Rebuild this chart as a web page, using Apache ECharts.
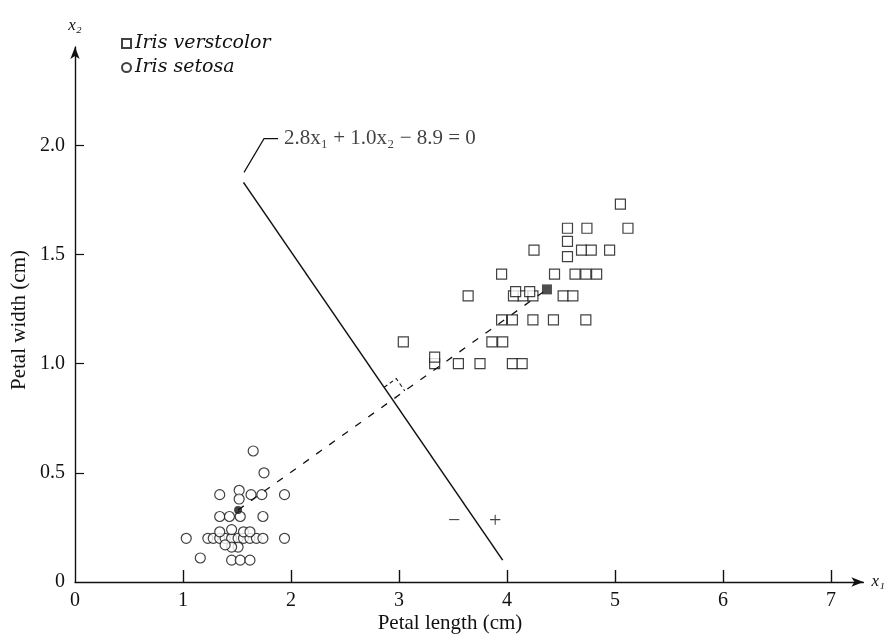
<!DOCTYPE html>
<html>
<head>
<meta charset="utf-8">
<script src="https://cdn.jsdelivr.net/npm/echarts@6/dist/echarts.min.js"></script>
<style>html,body{margin:0;padding:0;background:#fff}#c{width:889px;height:643px}</style>
</head>
<body>
<div id="c"></div>
<script>
// ---- data ----
const xTicks = [0, 1, 2, 3, 4, 5, 6, 7];
const yTicks = [0, 0.5, 1.0, 1.5, 2.0];
const yTickLabels = ['0', '0.5', '1.0', '1.5', '2.0'];

const versicolor = [
  [5.05,1.73],
  [4.56,1.62],[4.74,1.62],[5.12,1.62],
  [4.56,1.56],[4.56,1.49],
  [4.25,1.52],[4.69,1.52],[4.78,1.52],[4.95,1.52],
  [3.95,1.41],[4.44,1.41],[4.63,1.41],[4.73,1.41],[4.83,1.41],
  [3.64,1.31],[4.06,1.31],[4.15,1.31],[4.24,1.31],[4.52,1.31],[4.61,1.31],
  [4.08,1.33],[4.21,1.33],
  [3.95,1.20],[4.05,1.20],[4.24,1.20],[4.43,1.20],[4.73,1.20],
  [3.04,1.10],[3.86,1.10],[3.96,1.10],
  [3.33,1.00],[3.33,1.03],[3.55,1.00],[3.75,1.00],[4.05,1.00],[4.14,1.00]
];

const setosa = [
  [1.65,0.60],[1.75,0.50],
  [1.34,0.40],[1.52,0.42],[1.52,0.38],[1.63,0.40],[1.73,0.40],[1.94,0.40],
  [1.34,0.30],[1.43,0.30],[1.53,0.30],[1.74,0.30],
  [1.03,0.20],[1.23,0.20],[1.28,0.20],[1.34,0.20],[1.39,0.20],[1.45,0.20],[1.51,0.20],
  [1.56,0.20],[1.62,0.20],[1.68,0.20],[1.74,0.20],[1.94,0.20],
  [1.34,0.23],[1.45,0.24],[1.51,0.16],[1.56,0.23],[1.45,0.16],[1.62,0.23],[1.39,0.17],
  [1.16,0.11],[1.45,0.10],[1.53,0.10],[1.62,0.10]
];

const meanSetosa = [1.51, 0.33];
const meanVersicolor = [4.37, 1.34];
const boundary = [[1.56, 1.83], [3.96, 0.10]];
const signs = [[3.51, 0.28, '−'], [3.89, 0.28, '+']];
const equationAnchor = [1.93, 2.03];
const equationArrow = [[1.88, 2.03], [1.75, 2.03], [1.565, 1.876]];
const equationText = '2.8x₁ + 1.0x₂ − 8.9 = 0';
const xTitle = 'Petal length (cm)';
const yTitle = 'Petal width (cm)';

// ---- chart ----
const FONT = '"Liberation Serif", "DejaVu Serif", serif';
const chart = echarts.init(document.getElementById('c'), null, {renderer: 'canvas'});

const hollow = {color: '#fff', borderColor: '#111', borderWidth: 1.2};

chart.setOption({
  animation: false,
  backgroundColor: '#fff',
  grid: {left: 75, right: 25.6, top: 47, bottom: 61, containLabel: false},
  legend: {
    orient: 'vertical', left: 116, top: 29, itemGap: 5, itemWidth: 9, itemHeight: 9,
    data: ['Iris verstcolor', 'Iris setosa'],
    textStyle: {fontFamily: '"DejaVu Serif", serif', fontStyle: 'italic', fontSize: 19, color: '#111', padding: [0, 0, 0, -1]}
  },
  xAxis: {
    type: 'value', min: 0, max: 7.3,
    name: 'x₁', nameLocation: 'end', nameGap: 8,
    nameTextStyle: {fontFamily: FONT, fontStyle: 'italic', fontSize: 17, color: '#111', verticalAlign: 'middle'},
    axisLine: {show: true, onZero: false, symbol: ['none', 'arrow'], symbolSize: [7, 12], lineStyle: {color: '#111', width: 1.4}},
    axisTick: {show: true, inside: true, length: 12, customValues: xTicks.slice(1), lineStyle: {color: '#111', width: 1.4}},
    axisLabel: {customValues: xTicks, fontFamily: FONT, fontSize: 20, color: '#111', margin: 9},
    splitLine: {show: false}
  },
  yAxis: {
    type: 'value', min: 0, max: 2.45,
    name: 'x₂', nameLocation: 'end', nameGap: 13,
    nameTextStyle: {fontFamily: FONT, fontStyle: 'italic', fontSize: 17, color: '#111', align: 'center'},
    axisLine: {show: true, onZero: false, symbol: ['none', 'arrow'], symbolSize: [7, 12], lineStyle: {color: '#111', width: 1.4}},
    axisTick: {show: true, inside: true, length: 9, customValues: yTicks.slice(1), lineStyle: {color: '#111', width: 1.2}},
    axisLabel: {
      customValues: yTicks, fontFamily: FONT, fontSize: 20, color: '#111', margin: 10,
      formatter: v => yTickLabels[yTicks.findIndex(t => Math.abs(t - v) < 1e-6)] ?? ''
    },
    splitLine: {show: false}
  },
  graphic: [
    {type: 'text', x: 450, y: 623, style: {text: xTitle, font: '21px ' + FONT, fill: '#111', align: 'center', verticalAlign: 'middle'}},
    {type: 'text', x: 19, y: 320, rotation: Math.PI / 2,
      style: {text: yTitle, font: '21px ' + FONT, fill: '#111', align: 'center', verticalAlign: 'middle'}}
  ],
  series: [
    {name: 'Iris verstcolor', type: 'scatter', symbol: 'rect', symbolSize: 10, data: versicolor, itemStyle: hollow, z: 3},
    {name: 'Iris setosa', type: 'scatter', symbol: 'circle', symbolSize: 10, data: setosa, itemStyle: hollow, z: 3},
    {name: 'meanS', type: 'scatter', symbol: 'circle', symbolSize: 8, data: [meanSetosa],
      itemStyle: {color: '#111'}, z: 5},
    {name: 'meanV', type: 'scatter', symbol: 'rect', symbolSize: 10, data: [meanVersicolor],
      itemStyle: {color: '#222'}, z: 5},
    {name: 'boundary', type: 'line', data: boundary, showSymbol: false, symbol: 'none',
      lineStyle: {color: '#111', width: 1.5}, z: 4},
    {name: 'meanLink', type: 'line', data: [meanSetosa, meanVersicolor], showSymbol: false, symbol: 'none',
      lineStyle: {color: '#111', width: 1.3, type: [7, 9]}, z: 4},
    {name: 'rightAngle', type: 'custom', data: [[0, 0]], z: 4, silent: true,
      renderItem: function (params, api) {
        const a = api.coord(boundary[0]), b = api.coord(boundary[1]);
        const s = api.coord(meanSetosa), v = api.coord(meanVersicolor);
        const d1 = [b[0] - a[0], b[1] - a[1]], d2 = [v[0] - s[0], v[1] - s[1]];
        const den = d1[0] * d2[1] - d1[1] * d2[0];
        const t = ((s[0] - a[0]) * d2[1] - (s[1] - a[1]) * d2[0]) / den;
        const I = [a[0] + t * d1[0], a[1] + t * d1[1]];
        const n1 = Math.hypot(d1[0], d1[1]), n2 = Math.hypot(d2[0], d2[1]);
        const u1 = [d1[0] / n1, d1[1] / n1], u2 = [d2[0] / n2, d2[1] / n2];
        const k = 15;
        const A = [I[0] - k * u1[0], I[1] - k * u1[1]];
        const C = [A[0] + k * u2[0], A[1] + k * u2[1]];
        const B = [I[0] + k * u2[0], I[1] + k * u2[1]];
        return {type: 'polyline', shape: {points: [A, C, B]},
          style: {stroke: '#111', lineWidth: 1.1, lineDash: [4, 3], fill: null}};
      }
    },
    {name: 'signs', type: 'scatter', symbolSize: 1, data: signs.map(s => [s[0], s[1], s[2]]),
      itemStyle: {color: 'rgba(0,0,0,0)'},
      label: {show: true, position: 'inside', formatter: p => p.data[2],
        fontFamily: FONT, fontSize: 22, color: '#111'}},
    {name: 'equation', type: 'scatter', symbolSize: 1, data: [equationAnchor],
      itemStyle: {color: 'rgba(0,0,0,0)'},
      label: {show: true, position: 'right', distance: 0, formatter: equationText,
        fontFamily: FONT, fontSize: 21, color: '#111'}},
    {name: 'eqArrow', type: 'lines', coordinateSystem: 'cartesian2d', polyline: true,
      data: [{coords: equationArrow}], symbol: ['none', 'arrow'], symbolSize: 8,
      lineStyle: {color: '#111', width: 1.2, opacity: 1}, z: 4}
  ]
});
</script>
</body>
</html>
